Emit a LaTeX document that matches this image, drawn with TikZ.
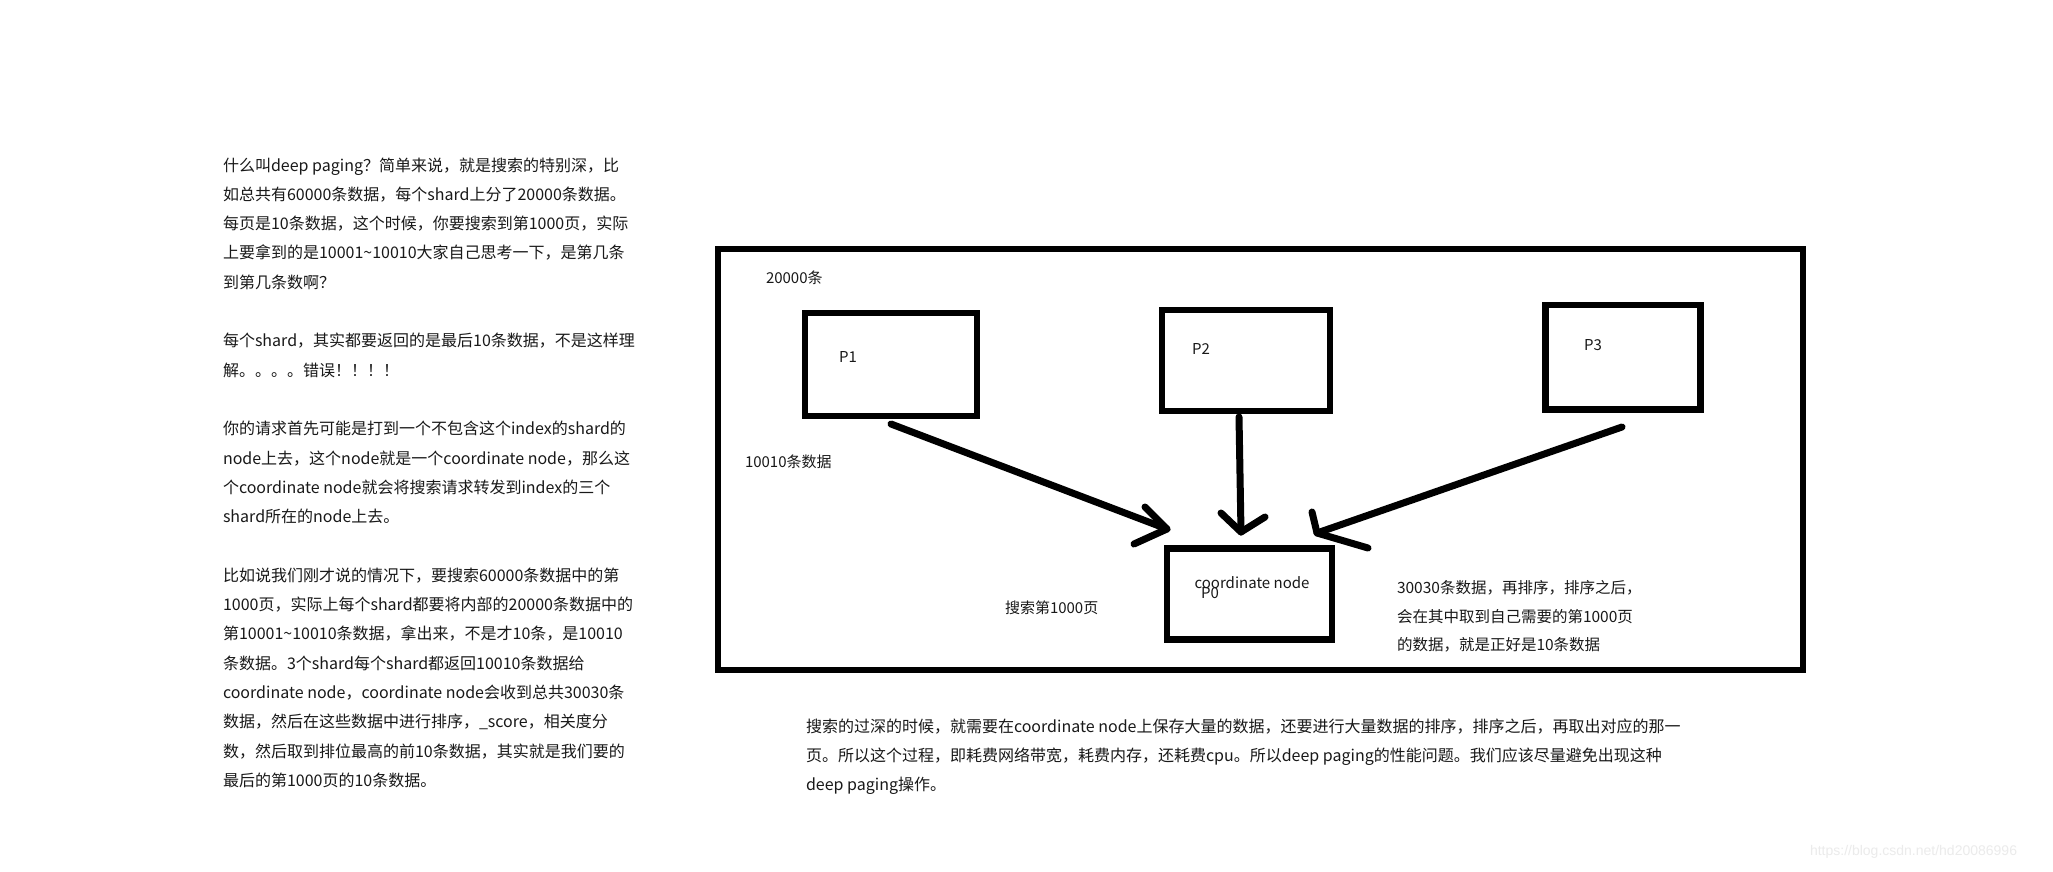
\documentclass[tikz,border=0pt]{standalone}
\usepackage{fontspec}
\setmainfont{Noto Sans CJK SC}
\newfontfamily\wmfont{Liberation Sans}
\begin{document}
\begin{tikzpicture}[x=1pt,y=-1pt,
  every node/.style={inner sep=0pt, outer sep=0pt},
  para/.style={anchor=north west, align=left, font=\fontsize{16}{29.3}\selectfont, text=black!90},
  lbl/.style={font=\fontsize{15}{18}\selectfont, text=black!90},
  box/.style={draw, line width=6.5pt, rectangle},
  shaft/.style={line width=7pt, line cap=round, line join=round},
]
\useasboundingbox (0,0) rectangle (2053,871);
\fill[white] (0,0) rectangle (2053,871);

% left explanatory text
\node[para] (ltext) at (223,157.5) {%
什么叫deep paging？简单来说，就是搜索的特别深，比\\
如总共有60000条数据，每个shard上分了20000条数据。\\
每页是10条数据，这个时候，你要搜索到第1000页，实际\\
上要拿到的是10001\textasciitilde10010大家自己思考一下，是第几条\\
到第几条数啊？\\[29.3pt]
每个shard，其实都要返回的是最后10条数据，不是这样理\\
解。。。。错误！！！！\\[29.3pt]
你的请求首先可能是打到一个不包含这个index的shard的\\
node上去，这个node就是一个coordinate node，那么这\\
个coordinate node就会将搜索请求转发到index的三个\\
shard所在的node上去。\\[29.3pt]
比如说我们刚才说的情况下，要搜索60000条数据中的第\\
1000页，实际上每个shard都要将内部的20000条数据中的\\
第10001\textasciitilde10010条数据，拿出来，不是才10条，是10010\\
条数据。3个shard每个shard都返回10010条数据给\\
coordinate node，coordinate node会收到总共30030条\\
数据，然后在这些数据中进行排序，\_score，相关度分\\
数，然后取到排位最高的前10条数据，其实就是我们要的\\
最后的第1000页的10条数据。};

% diagram frame and boxes
\node[box, line width=6pt, minimum width=1085pt, minimum height=421pt] (frame) at (1260.5,459.5) {};
\node[box, minimum width=172pt, minimum height=103pt] (P1) at (891,364.5) {};
\node[box, minimum width=168pt, minimum height=101pt] (P2) at (1246,360.5) {};
\node[box, minimum width=155pt, minimum height=104.5pt] (P3) at (1622.75,357) {};
\node[box, minimum width=165pt, minimum height=91pt] (P0) at (1249.5,594) {};

\node[lbl] (lp1) at (848,357) {P1};
\node[lbl] (lp2) at (1201,349) {P2};
\node[lbl] (lp3) at (1593,345) {P3};
\node[lbl] (lcn) at (1252,583) {coordinate node};
\node[lbl] (lp0) at (1210,593) {P0};

\node[lbl, anchor=west] (t20000) at (766,278) {20000条};
\node[lbl, anchor=west] (t10010) at (745,462) {10010条数据};
\node[lbl, anchor=west] (tsearch) at (1005,608) {搜索第1000页};

% arrows (hand drawn style)
\coordinate (a1s) at (891,424);
\coordinate (a1t) at (1167,529);
\coordinate (a1u) at (1145,507);
\coordinate (a1d) at (1134,544);
\coordinate (a2s) at (1239,417);
\coordinate (a2t) at (1241,532);
\coordinate (a2l) at (1221,513);
\coordinate (a2r) at (1265,517);
\coordinate (a3s) at (1622,427);
\coordinate (a3t) at (1317,533);
\coordinate (a3u) at (1312,512);
\coordinate (a3d) at (1368,548);
\draw[shaft] (a1s) -- (a1t);
\draw[shaft] (a1u) -- (a1t) -- (a1d);
\draw[shaft] (a2s) -- (a2t);
\draw[shaft] (a2l) -- (a2t) -- (a2r);
\draw[shaft] (a3s) -- (a3t);
\draw[shaft] (a3u) -- (a3t) -- (a3d);

% right note inside frame
\node[para, font=\fontsize{15.5}{28.5}\selectfont] (rtext) at (1397,580.5) {%
30030条数据，再排序，排序之后，\\
会在其中取到自己需要的第1000页\\
的数据，就是正好是10条数据};

% bottom text
\node[para, font=\fontsize{16}{29}\selectfont] (btext) at (806,718.5) {%
搜索的过深的时候，就需要在coordinate node上保存大量的数据，还要进行大量数据的排序，排序之后，再取出对应的那一\\
页。所以这个过程，即耗费网络带宽，耗费内存，还耗费cpu。所以deep paging的性能问题。我们应该尽量避免出现这种\\
deep paging操作。};

% watermark
\node[anchor=west, font=\wmfont\fontsize{14}{16}\selectfont, text=black!8] (wm) at (1810,852) {https://blog.csdn.net/hd20086996};
\end{tikzpicture}
\end{document}
